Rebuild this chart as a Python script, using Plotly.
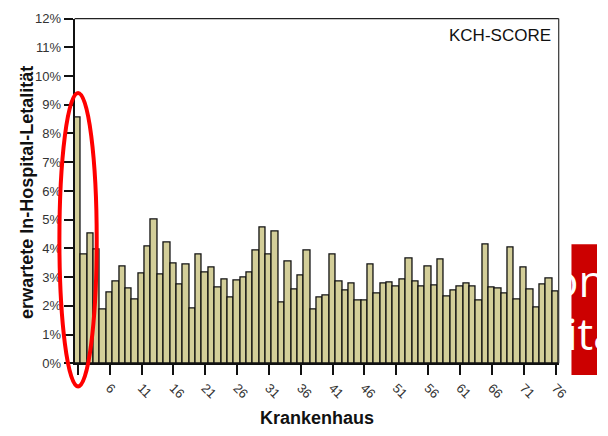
import plotly.graph_objects as go

# ---- data -------------------------------------------------------------
hospitals = list(range(1, 77))
letalitaet = [8.57, 3.80, 4.53, 3.96, 1.87, 2.47, 2.84, 3.37, 2.59, 2.21,
              3.13, 4.08, 5.02, 3.10, 4.20, 3.48, 2.73, 3.44, 1.92, 3.80,
              3.17, 3.34, 2.64, 2.90, 2.29, 2.88, 2.97, 3.16, 3.92, 4.73,
              3.78, 4.58, 2.12, 3.55, 2.57, 3.05, 3.91, 1.87, 2.29, 2.35,
              3.80, 2.85, 2.52, 2.79, 2.20, 2.20, 3.42, 2.41, 2.78, 2.82,
              2.67, 2.91, 3.66, 2.84, 2.67, 3.37, 2.71, 3.62, 2.34, 2.53,
              2.68, 2.76, 2.68, 2.17, 4.13, 2.63, 2.59, 2.41, 4.02, 2.23,
              3.32, 2.57, 1.95, 2.73, 2.96, 2.49]
x_tickvals = list(range(1, 77, 5))
x_ticktext = [""] + [str(v) for v in x_tickvals[1:]]
y_tickvals = list(range(0, 13))
y_ticktext = ["%d%%" % v for v in y_tickvals]
score_label = "KCH-SCORE"
x_title = "Krankenhaus"
y_title = "erwartete In-Hospital-Letalität"
overlay_lines = ["on", "itä"]

# ---- geometry helpers (pixels -> paper) -------------------------------
W, H = 608, 436
def px(x):
    return x / W
def py(y):
    return 1 - y / H

L, R, T, B = 76, 569, 12, 369
FONT = "Arial, Liberation Sans, sans-serif"

fig = go.Figure()
fig.add_trace(go.Bar(
    x=hospitals, y=letalitaet,
    marker=dict(color="#D3CE99", line=dict(color="#111111", width=1.3)),
    width=1.0, showlegend=False, hoverinfo="skip",
))

# clipped white text of the red overlay box (centres inside the clip area)
fig.add_trace(go.Scatter(
    x=[589.5, 603], y=[289, 344], text=overlay_lines,
    mode="text", textposition="middle center",
    textfont=dict(family="Open Sans", size=44, color="#FFFFFF"),
    xaxis="x2", yaxis="y2", cliponaxis=True, showlegend=False, hoverinfo="skip",
))

fig.update_layout(
    width=W, height=H, autosize=False,
    margin=dict(l=0, r=0, t=0, b=0),
    paper_bgcolor="white", plot_bgcolor="white",
    bargap=0,
    font=dict(family=FONT, color="#222222"),
    xaxis=dict(
        domain=[px(L), px(R)], range=[0.5, 76.5],
        tickmode="array", tickvals=x_tickvals, ticktext=x_ticktext,
        tickangle=45, ticks="outside", ticklen=10, tickwidth=1.5, tickcolor="#111",
        showline=True, linecolor="#111", linewidth=2,
        showgrid=False, zeroline=False,
        tickfont=dict(family=FONT, size=13, color="#333333"),
    ),
    yaxis=dict(
        domain=[py(B), py(T)], range=[0, 12],
        tickmode="array", tickvals=y_tickvals, ticktext=y_ticktext,
        ticks="outside", ticklen=9, tickwidth=1.5, tickcolor="#111",
        showline=True, linecolor="#111", linewidth=2,
        showgrid=False, zeroline=False,
        tickfont=dict(family=FONT, size=13, color="#333333"),
    ),
    xaxis2=dict(domain=[px(571), 1], range=[571, 608], visible=False,
                anchor="y2", fixedrange=True),
    yaxis2=dict(domain=[py(381), py(245.7)], range=[381, 245.7], visible=False,
                anchor="x2", fixedrange=True),
    shapes=[
        dict(type="line", xref="paper", yref="paper", x0=px(L), x1=px(R),
             y0=py(T), y1=py(T), line=dict(color="#222", width=1.2)),
        dict(type="line", xref="paper", yref="paper", x0=px(R), x1=px(R),
             y0=py(T), y1=py(B), line=dict(color="#333", width=1.2)),
        dict(type="rect", xref="paper", yref="paper", x0=px(582), x1=1.0,
             y0=py(381), y1=py(245.7), fillcolor="#CC0000",
             line=dict(width=0), layer="below"),
        dict(type="circle", xref="paper", yref="paper", x0=px(60.5), x1=px(98.5),
             y0=py(393), y1=py(89), line=dict(color="#FF0000", width=4),
             fillcolor="rgba(0,0,0,0)", layer="above"),
    ],
    annotations=[
        dict(text=score_label, xref="paper", yref="paper", x=px(563), y=py(29.7),
             xanchor="right", yanchor="middle", showarrow=False,
             font=dict(family=FONT, size=17, color="#111111")),
        dict(text="<b>%s</b>" % x_title, xref="paper", yref="paper",
             x=px(323), y=py(425.5), xanchor="center", yanchor="middle",
             showarrow=False, font=dict(family=FONT, size=18, color="#111111")),
        dict(text="<b>%s</b>" % y_title, xref="paper", yref="paper",
             x=px(28), y=py(192), xanchor="center", yanchor="middle",
             textangle=-90, showarrow=False,
             font=dict(family=FONT, size=18, color="#111111")),
    ],
)

fig.write_html(
    "out.html",
    config={"displayModeBar": False},
    post_script="document.body.style.margin='0';document.body.style.overflow='hidden';",
)
